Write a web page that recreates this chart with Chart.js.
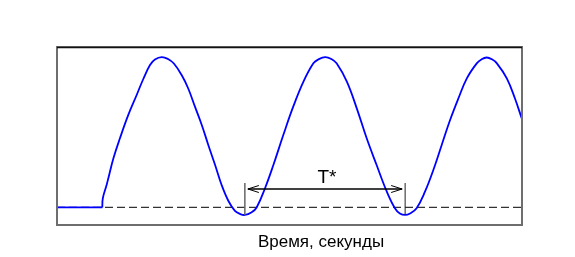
<!DOCTYPE html>
<html><head><meta charset="utf-8">
<script src="https://cdn.jsdelivr.net/npm/chart.js@4/dist/chart.umd.min.js"></script>
<style>html,body{margin:0;padding:0;background:#fff}#wrap{width:575px;height:257px}</style>
</head><body><div id="wrap"><canvas id="c" width="575" height="257"></canvas></div>
<script>
// time, seconds
const timeValues = [0,1.46,1.48,1.60,1.65,1.82,2.03,2.30,2.57,2.78,3.00,3.16,3.38,3.58,3.77,4.02,4.23,4.45,4.67,4.88,5.10,5.31,5.53,5.74,5.90,6.06,6.28,6.44,6.71,6.98,7.30,7.62,7.95,8.27,8.43,8.65,8.85,9.02,9.35,9.67,9.99,10.31,10.64,10.90,11.06,11.23,11.39,11.60,11.87,12.14,12.41,12.68,12.95,13.22,13.54,13.69,13.86,14.03,14.19,14.51,14.77,14.99];
const signalValues = [0,0,0.63,1.5,1.9,3.28,4.61,6.17,7.50,8.55,9.50,9.87,10.03,9.90,9.60,8.83,7.95,6.72,5.50,4.17,2.83,1.50,0.43,-0.23,-0.43,-0.50,-0.32,0.0,1.28,2.83,4.83,6.72,8.39,9.61,9.87,10.03,9.90,9.61,8.39,6.61,4.61,2.83,1.05,-0.05,-0.40,-0.50,-0.40,-0.05,1.05,2.50,4.17,5.83,7.28,8.61,9.61,9.87,10.0,9.88,9.61,8.61,7.28,5.95];
const onsetIndex = 1;                 // signal starts oscillating here
const baselineLevel = [0, 0];
const baselineTimes = [0, 15];
const periodMarks = [6.06, 11.23];   // T* start / end (troughs)
const periodArrowLevel = 1.23;
const periodTickRange = [-0.5, 1.63];
const periodLabel = 'T*';
const xAxisTitle = 'Время, секунды';

const pts = timeValues.map((t, i) => ({x: t, y: signalValues[i]}));

const decor = {
  id: 'decor',
  afterDatasetsDraw(chart) {
    const {ctx, chartArea: a, scales: {x, y}} = chart;
    ctx.save();
    const x1 = x.getPixelForValue(periodMarks[0]), x2 = x.getPixelForValue(periodMarks[1]);
    const yt = y.getPixelForValue(periodTickRange[1]), yb = y.getPixelForValue(periodTickRange[0]);
    ctx.lineWidth = 1.5;
    ctx.strokeStyle = '#666';
    ctx.beginPath(); ctx.moveTo(x1, yt); ctx.lineTo(x1, yb); ctx.stroke();
    ctx.strokeStyle = '#222';
    ctx.lineWidth = 1;
    ctx.beginPath(); ctx.moveTo(x2, yt); ctx.lineTo(x2, yb); ctx.stroke();
    const ya = y.getPixelForValue(periodArrowLevel);
    ctx.strokeStyle = '#000'; ctx.lineWidth = 1.5;
    ctx.beginPath(); ctx.moveTo(x1 + 3, ya); ctx.lineTo(x2 - 3, ya); ctx.stroke();
    ctx.lineWidth = 1;
    ctx.beginPath();
    ctx.moveTo(x1 + 14, ya - 3.5); ctx.lineTo(x1 + 3, ya); ctx.lineTo(x1 + 14, ya + 3.5);
    ctx.moveTo(x2 - 14, ya - 3.5); ctx.lineTo(x2 - 3, ya); ctx.lineTo(x2 - 14, ya + 3.5);
    ctx.stroke();
    ctx.fillStyle = '#000';
    ctx.font = '19px "Liberation Sans", Arial, sans-serif';
    ctx.textAlign = 'center'; ctx.textBaseline = 'alphabetic';
    ctx.fillText(periodLabel, (x1 + x2) / 2 + 2, ya - 6);
    ctx.lineWidth = 2; ctx.strokeStyle = '#6e6e6e';
    ctx.strokeRect(a.left, a.top, a.right - a.left, a.bottom - a.top);
    ctx.lineWidth = 1.5; ctx.strokeStyle = '#111';
    ctx.beginPath(); ctx.moveTo(a.left, a.top + 0.5); ctx.lineTo(a.right, a.top + 0.5); ctx.stroke();
    ctx.font = '17px "Liberation Sans", Arial, sans-serif';
    ctx.fillStyle = '#000';
    ctx.fillText(xAxisTitle, 321, 247);
    ctx.restore();
  }
};

new Chart(document.getElementById('c'), {
  type: 'scatter',
  data: {
    datasets: [
      {
        data: baselineTimes.map((t, i) => ({x: t, y: baselineLevel[i]})),
        showLine: true, borderColor: '#333', borderWidth: 1.2, borderDash: [8, 4],
        pointRadius: 0, order: 3
      },
      {
        data: pts.slice(0, onsetIndex + 1),
        showLine: true, borderColor: '#0000ff', borderWidth: 1.8, tension: 0,
        pointRadius: 0, order: 2
      },
      {
        data: pts.slice(onsetIndex),
        showLine: true, borderColor: '#0000ff', borderWidth: 1.8, tension: 0.4,
        pointRadius: 0, order: 1
      }
    ]
  },
  options: {
    responsive: false, animation: false, devicePixelRatio: 1,
    layout: {padding: {left: 57, top: 47, right: 53, bottom: 32}},
    plugins: {legend: {display: false}, tooltip: {enabled: false}},
    scales: {
      x: {type: 'linear', min: 0, max: 15, display: false},
      y: {type: 'linear', min: -1.17, max: 10.7, display: false}
    }
  },
  plugins: [decor]
});
</script>
</body></html>
